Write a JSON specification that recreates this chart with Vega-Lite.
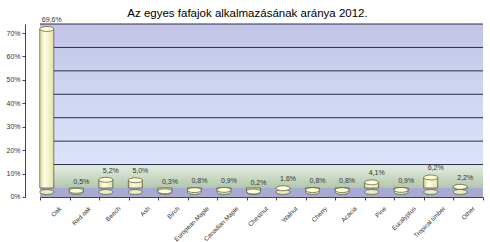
{
  "$schema": "https://vega.github.io/schema/vega-lite/v6.json",
  "width": 443,
  "height": 173,
  "autosize": {"type": "none"},
  "padding": {"left": 40, "top": 24, "right": 7, "bottom": 45},
  "background": "white",
  "title": {"text": "Az egyes fafajok alkalmazásának aránya 2012.", "font": "Liberation Sans", "fontSize": 11.5, "fontWeight": "normal", "color": "#000000", "offset": 7, "dx": -14, "dy": 11},
  "datasets": {
    "wood": [
      {"k": "Oak", "v": 69.6},
      {"k": "Red oak", "v": 0.5},
      {"k": "Beech", "v": 5.2},
      {"k": "Ash", "v": 5.0},
      {"k": "Birch", "v": 0.3},
      {"k": "European Maple", "v": 0.8},
      {"k": "Canadian Maple", "v": 0.9},
      {"k": "Chestnut", "v": 0.2},
      {"k": "Walnut", "v": 1.6},
      {"k": "Cherry", "v": 0.8},
      {"k": "Acacia", "v": 0.8},
      {"k": "Pine", "v": 4.1},
      {"k": "Eucalyptus", "v": 0.9},
      {"k": "Tropical timber", "v": 6.2},
      {"k": "Other", "v": 2.2}
    ],
    "grid": [{"g": 10}, {"g": 20}, {"g": 30}, {"g": 40}, {"g": 50}, {"g": 60}, {"g": 70}],
    "one": [{"o": 1}]
  },
  "data": {"name": "wood"},
  "resolve": {"axis": {"y": "independent"}},
  "layer": [
    {
      "data": {"name": "one"},
      "mark": {"type": "rect", "fill": {"gradient": "linear", "x1": 0, "y1": 0, "x2": 0, "y2": 1, "stops": [{"offset": 0, "color": "#C2C4E6"}, {"offset": 0.4, "color": "#CDD2F0"}, {"offset": 1, "color": "#DCE3F9"}]}},
      "encoding": {
        "y": {"datum": 10, "type": "quantitative", "title": null, "scale": {"domain": [-3.85, 70], "nice": false, "zero": false},
          "axis": {"values": [0, 10, 20, 30, 40, 50, 60, 70], "labelOverlap": false, "labelExpr": "datum.value + '%'", "title": null, "grid": false, "offset": 15, "tickOffset": 9, "tickSize": 3, "tickColor": "#444444", "domainColor": "#444444", "labelFont": "Liberation Sans", "labelFontSize": 7, "labelColor": "#333333", "labelPadding": 2}},
        "y2": {"datum": 70},
        "x": {"value": 0},
        "x2": {"value": "width"}
      }
    },
    {
      "data": {"name": "one"},
      "mark": {"type": "rect", "fill": {"gradient": "linear", "x1": 0, "y1": 0, "x2": 0, "y2": 1, "stops": [{"offset": 0, "color": "#E6EEE2"}, {"offset": 1, "color": "#B2C6AC"}]}},
      "encoding": {
        "y": {"datum": 0, "type": "quantitative", "axis": null},
        "y2": {"datum": 10},
        "x": {"value": 0},
        "x2": {"value": "width"}
      }
    },
    {
      "data": {"name": "one"},
      "mark": {"type": "rect", "fill": "#A7ABD3"},
      "encoding": {
        "y": {"datum": -3.85, "type": "quantitative", "axis": null},
        "y2": {"datum": 0},
        "x": {"value": 0},
        "x2": {"value": "width"}
      }
    },
    {
      "data": {"name": "grid"},
      "mark": {"type": "rule", "color": "#2A2C48", "strokeWidth": 1},
      "encoding": {
        "y": {"field": "g", "type": "quantitative", "axis": null},
        "x": {"value": 0},
        "x2": {"value": "width"}
      }
    },
    {
      "mark": {"type": "point", "shape": "M -1 0 A 1 0.35 0 1 1 1 0 A 1 0.35 0 1 1 -1 0 Z", "size": 196, "filled": true, "fill": "#EDEDB4", "stroke": "#4A4A3A", "strokeWidth": 0.7, "opacity": 1, "xOffset": -8, "yOffset": 4},
      "encoding": {
        "x": {"field": "k", "type": "nominal", "sort": null, "scale": {"type": "band", "paddingInner": 0, "paddingOuter": 0},
          "axis": {"title": null, "labelAngle": -45, "labelFont": "Liberation Sans", "labelFontSize": 6.3, "labelColor": "#333333", "tickBand": "extent", "tickOffset": -15, "labelOffset": 3, "tickSize": 3, "tickColor": "#444444", "domainColor": "#444444", "labelPadding": 5, "grid": false}},
        "y": {"datum": 0, "type": "quantitative", "axis": null}
      }
    },
    {
      "mark": {"type": "bar", "width": 14, "xOffset": -8, "yOffset": 4, "fill": {"gradient": "linear", "x1": 0, "y1": 0, "x2": 1, "y2": 0, "stops": [{"offset": 0, "color": "#DADA94"}, {"offset": 0.35, "color": "#FFFFE6"}, {"offset": 1, "color": "#E4E4A6"}]}, "stroke": "#4A4A3A", "strokeWidth": 0.7},
      "encoding": {
        "x": {"field": "k", "type": "nominal", "sort": null},
        "y": {"field": "v", "type": "quantitative", "axis": null},
        "y2": {"datum": 0}
      }
    },
    {
      "mark": {"type": "point", "shape": "M -1 0 A 1 0.35 0 1 1 1 0 A 1 0.35 0 1 1 -1 0 Z", "size": 196, "filled": true, "fill": "#FFFFD2", "stroke": "#4A4A3A", "strokeWidth": 0.7, "opacity": 1, "xOffset": -8, "yOffset": 4},
      "encoding": {
        "x": {"field": "k", "type": "nominal", "sort": null},
        "y": {"field": "v", "type": "quantitative", "axis": null}
      }
    },
    {
      "transform": [{"calculate": "replace(format(datum.v, '.1f'), '.', ',') + '%'", "as": "lab"}],
      "mark": {"type": "text", "baseline": "bottom", "dy": -2, "xOffset": -3, "font": "Liberation Sans", "fontSize": 7, "color": "#333333"},
      "encoding": {
        "x": {"field": "k", "type": "nominal", "sort": null},
        "y": {"field": "v", "type": "quantitative", "axis": null},
        "text": {"field": "lab", "type": "nominal"}
      }
    }
  ],
  "config": {"view": {"stroke": null}}
}
